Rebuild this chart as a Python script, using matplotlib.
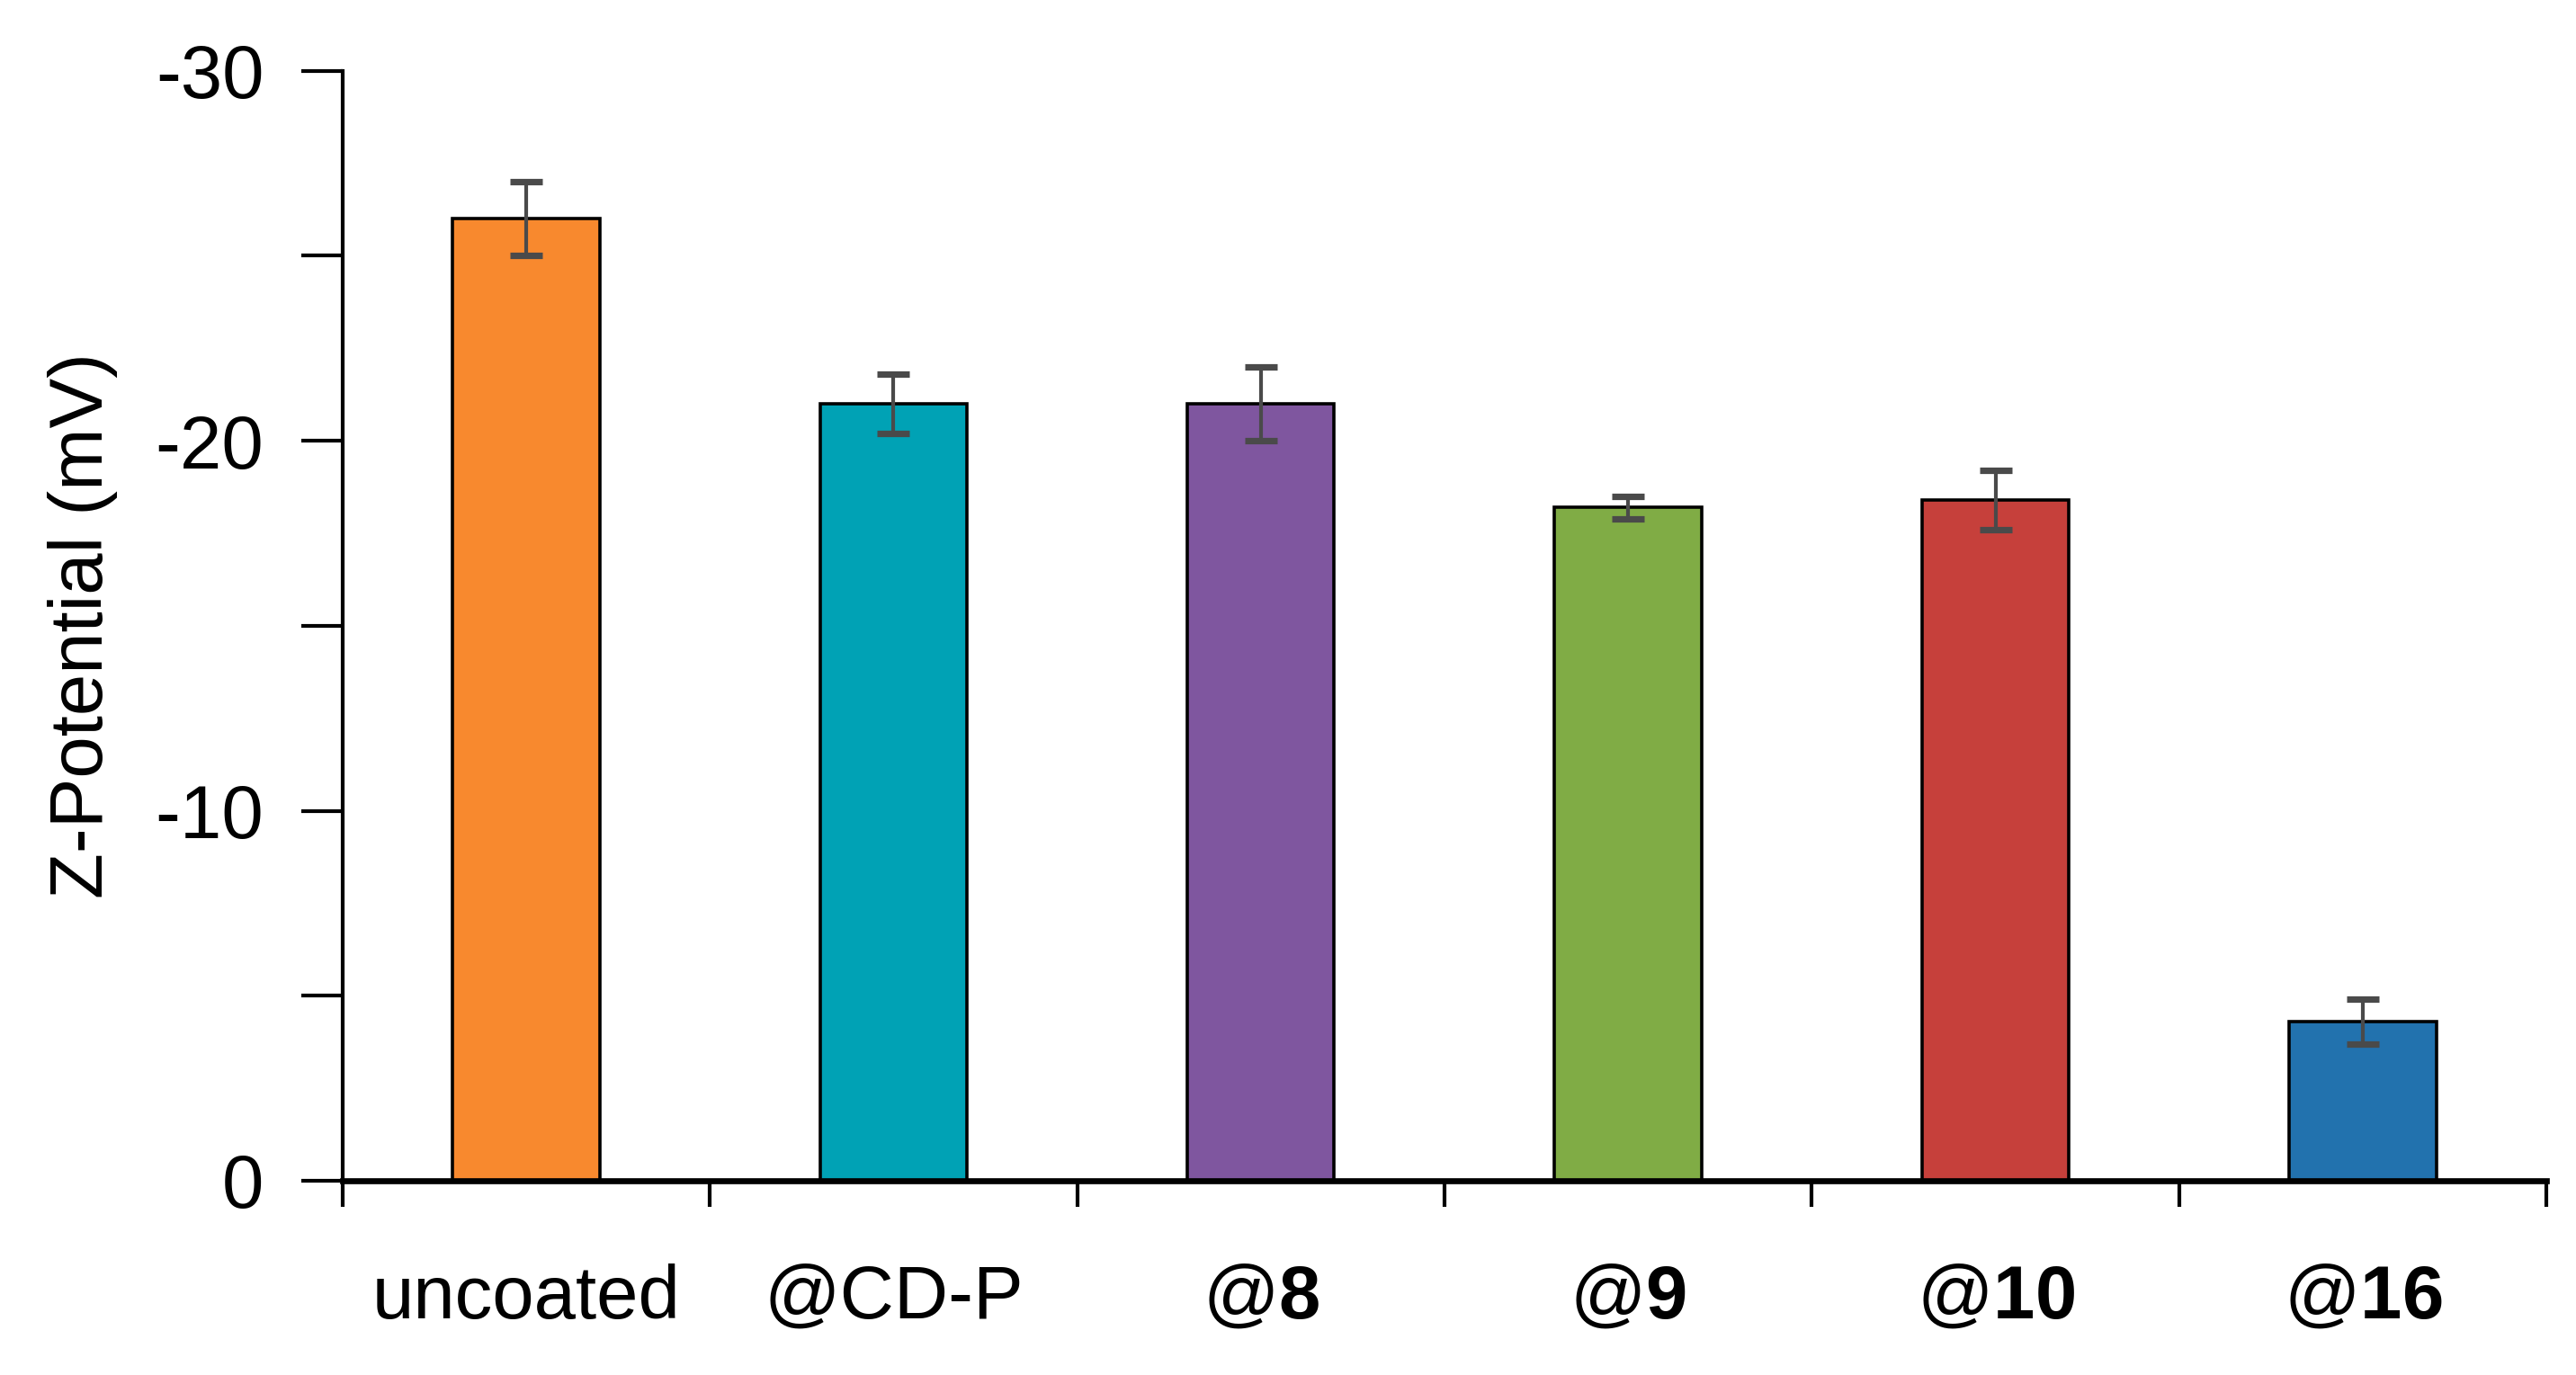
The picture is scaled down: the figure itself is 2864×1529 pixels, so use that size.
import numpy as np
import matplotlib.pyplot as plt
from matplotlib.ticker import MultipleLocator, FixedLocator

# data
labels = ['uncoated', '@CD-P', '@$\\mathbf{8}$', '@$\\mathbf{9}$', '@$\\mathbf{10}$', '@$\\mathbf{16}$']
zeta = [-26.0, -21.0, -21.0, -18.2, -18.4, -4.3]   # mV
err = [1.0, 0.8, 1.0, 0.3, 0.8, 0.6]
colors = ['#F8892E', '#00A2B5', '#7F569F', '#80AC45', '#C6403B', '#2272AE']

plt.rcParams['font.family'] = ['Liberation Sans', 'DejaVu Sans']
plt.rcParams['mathtext.fontset'] = 'custom'
plt.rcParams['mathtext.rm'] = 'Liberation Sans'
plt.rcParams['mathtext.bf'] = 'Liberation Sans:bold'
plt.rcParams['axes.unicode_minus'] = False

fig = plt.figure(figsize=(14.32, 7.645), dpi=200)
ax = fig.add_axes([0.133, 0.1413, 0.8555, 0.8072])

x = np.arange(len(labels))
ax.bar(x, zeta, width=0.4, color=colors, edgecolor='black', linewidth=1.3, zorder=2)
ax.errorbar(x, zeta, yerr=err, fmt='none', ecolor='#4a4a4a', elinewidth=1.5,
            capsize=6.5, capthick=2.6, zorder=3)

ax.set_xlim(-0.5, len(labels) - 0.5)
ax.set_ylim(0, -30)

# y ticks every 5, labels every 10
ax.yaxis.set_major_locator(MultipleLocator(5))
ax.set_yticks(np.arange(0, -31, -5))
ax.set_yticklabels([('%d' % v) if v % 10 == 0 else '' for v in np.arange(0, -31, -5)])
ax.tick_params(axis='y', direction='out', length=16.5, width=1.5, pad=15, labelsize=30)

# category labels at centers, tick marks at boundaries
ax.set_xticks(x)
ax.set_xticklabels(labels)
ax.xaxis.set_minor_locator(FixedLocator(np.arange(-0.5, len(labels), 1.0)))
ax.tick_params(axis='x', which='major', length=0, pad=33, labelsize=30)
ax.tick_params(axis='x', which='minor', direction='out', length=10.5, width=1.5)

ax.set_ylabel('Z-Potential (mV)', fontsize=30, labelpad=15)

for s in ['top', 'right']:
    ax.spines[s].set_visible(False)
ax.spines['left'].set_linewidth(1.5)
ax.spines['bottom'].set_linewidth(2.4)

fig.savefig('out.png', dpi=200, facecolor='white')
